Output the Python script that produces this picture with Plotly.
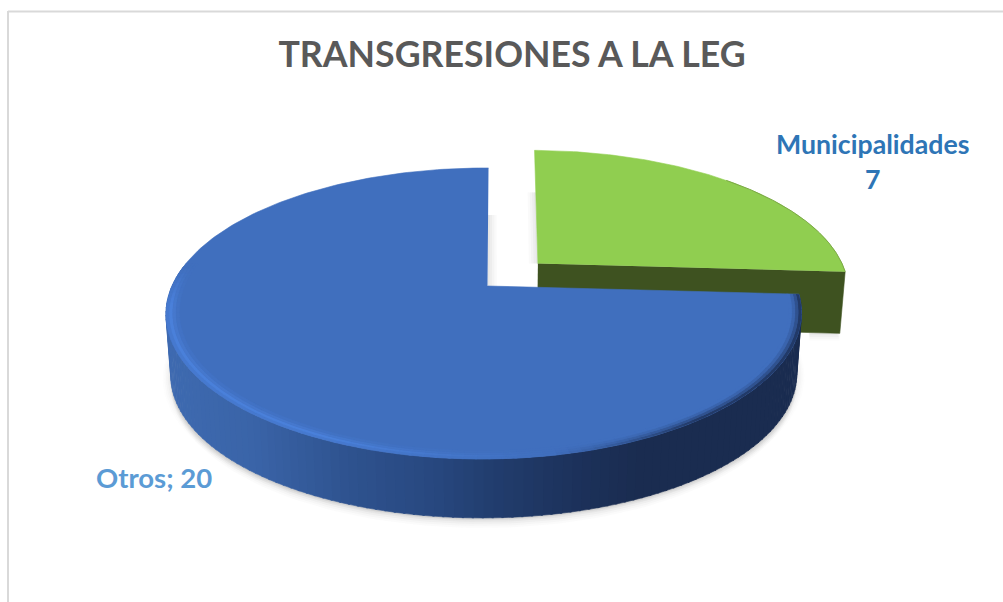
import numpy as np
import plotly.graph_objects as go

# Data
categories = ["Municipalidades", "Otros"]
values = [7, 20]
title_text = "TRANSGRESIONES A LA LEG"

# Styles
top_colors = ["#90CE50", "#406FBE"]
wall_green = "#3E5220"
wall_stops_x = [165, 250, 350, 430, 500, 580, 640, 810]
wall_stops_c = [(62, 106, 176), (58, 100, 168), (46, 82, 142), (40, 72, 128), (33, 60, 108),
                (28, 49, 90), (26, 44, 80), (26, 44, 80)]
explode_u, explode_v = 0.164, 0.165
green_radius = 1.02

# Projection of the tilted disc onto the page
CX, CY, RX, RY, K, M, SH, H = 487.5, 286, 312, 140.3, 0.189, 0.011, 1.2, 61.5


def project(u, v, z=0.0, sh=SH):
    u, v = np.asarray(u, float), np.asarray(v, float)
    w = 1 + K * v + M * u
    s = 1 - 0.015 * z
    return CX + s * (RX * u + sh * v) / w, CY + H * z - RY * s * v / w


def arc(t0, t1, r=1.0, du=0.0, dv=0.0, n=120):
    t = np.radians(np.linspace(t0, t1, n))
    return du + r * np.sin(t), dv + r * np.cos(t)


def hex2rgb(c):
    return tuple(int(c[i:i + 2], 16) for i in (1, 3, 5))


def mix(a, b, f):
    return tuple(a[i] + (b[i] - a[i]) * f for i in range(3))


def css(c):
    return "rgb(%d,%d,%d)" % tuple(round(x) for x in c)


fig = go.Figure()


def poly(x, y, color, opacity=1.0, lw=0.6):
    fig.add_trace(go.Scatter(
        x=list(x), y=list(y), mode="lines", fill="toself", fillcolor=color, opacity=opacity,
        line=dict(color=color, width=lw), hoverinfo="skip", showlegend=False))


# Angles from the values
total = sum(values)
green_end = 360 * values[0] / total
du, dv = explode_u, explode_v
blue_start, blue_end = green_end, 360.0
GSH = 5.5

# Soft shadow under the disc
for off, op in [(10, 0.035), (8, 0.045), (6, 0.06), (4, 0.07), (2, 0.08)]:
    u, v = arc(80, 290)
    x, y = project(u, v, 1)
    poly(x, y + off, "#808080", op, 0)
    x2, y2 = project(u * (1 + off / 400), v, 1)
    poly(x2, y2 + off * 0.3, "#808080", op * 0.6, 0)
ug, vg = arc(0, green_end, green_radius, du, dv)
for off, op in [(8, 0.03), (6, 0.04), (4, 0.05), (2, 0.06)]:
    xg, yg = project(ug, vg, 1, GSH)
    poly(np.r_[xg[-30:], xg[-1] - 30], np.r_[yg[-30:], yg[-1]] + off * 0.9, "#808080", op, 0)

# Soft shadows beside the cut faces, in the gap
for off, op in [(0.03, 0.04), (0.022, 0.05), (0.014, 0.06), (0.006, 0.07)]:
    x, y = project([0, off, off, 0], [0.0, 0.0, 0.56, 0.56])
    poly(x, y, "#808080", op, 0)
    x, y = project([du, du - off, du - off, du], [dv, dv, dv + 0.6, dv + 0.6], 0, GSH)
    poly(x, y, "#808080", op, 0)

# Green slice: wall first, then the top
ue = du + green_radius * np.sin(np.radians(green_end))
ve = dv + green_radius * np.cos(np.radians(green_end))
x0, y0 = project([du, ue], [dv, ve], 0, GSH)
x1, y1 = project([ue, du], [ve, dv], 1, GSH)
poly(np.r_[x0, x1], np.r_[y0, y1], wall_green)
x, y = project(np.r_[du, ug], np.r_[dv, vg], 0, GSH)
poly(x, y, top_colors[0])
xa, ya = project(*arc(45, green_end, green_radius, du, dv), 0, GSH)
fig.add_trace(go.Scatter(x=xa, y=ya, mode="lines", line=dict(color="#7BA845", width=1),
                         hoverinfo="skip", showlegend=False))

# Blue slice: graded outer wall
edges = np.arange(blue_start, 278, 1.5)
for a, b in zip(edges[:-1], edges[1:]):
    ua, va = arc(a, b + 0.3, n=3)
    xt, yt = project(ua, va, 0)
    xb, yb = project(ua, va, 1)
    xm = float(np.mean(xt))
    col = tuple(np.interp(xm, wall_stops_x, [s[i] for s in wall_stops_c]) for i in range(3))
    poly(np.r_[xt, xb[::-1]], np.r_[yt, yb[::-1]], css(col))

# Blue top
ub, vb = arc(blue_start, blue_end, n=240)
x, y = project(np.r_[0, ub], np.r_[0, vb])
poly(x, y, top_colors[1])

# Bevel on the rim of the blue top
top_rgb = hex2rgb(top_colors[1])
bright = (74, 128, 218)
dark = (34, 58, 104)
ring_r = [1.0, 0.990, 0.980, 0.970, 0.960]
bright_f = [0.6, 1.0, 0.55, 0.2]
dark_f = [1.0, 0.55, 0.2, 0.0]
edges = np.arange(blue_start, 280, 2.0)
for a, b in zip(edges[:-1], edges[1:]):
    c = (a + b) / 2
    if c >= 170:
        base = mix(top_rgb, bright, min(1, (c - 170) / 35) * min(1, (278 - c) / 15))
        fs = bright_f
    else:
        base = mix(top_rgb, dark, min(1, (170 - c) / 25))
        fs = dark_f
    for r1, r2, f in zip(ring_r[:-1], ring_r[1:], fs):
        col = mix(top_rgb, base, f)
        ua, va = arc(a, b + 0.3, r1, n=3)
        uc, vc = arc(a, b + 0.3, r2, n=3)
        xt, yt = project(ua, va)
        xi, yi = project(uc, vc)
        poly(np.r_[xt, xi[::-1]], np.r_[yt, yi[::-1]], css(col), lw=0.3)

# Labels
label_font = "Lato, 'Open Sans', sans-serif"
fig.add_annotation(x=872, y=161, xref="x", yref="y", showarrow=False, align="center",
                   text=f"{categories[0]}<br>{values[0]}",
                   font=dict(family=label_font, size=26.7, color="#2E75B6", weight="bold"))
fig.add_annotation(x=154, y=477, xref="x", yref="y", showarrow=False,
                   text=f"{categories[1]}; {values[1]}",
                   font=dict(family=label_font, size=27.5, color="#5B9BD5", weight="bold"))

# Frame around the chart area
fig.add_shape(type="line", x0=8, x1=1003, y0=11.5, y1=11.5, xref="x", yref="y",
              line=dict(color="#D9D9D9", width=2))
fig.add_shape(type="line", x0=8, x1=8, y0=11, y1=602, xref="x", yref="y",
              line=dict(color="#D9D9D9", width=2))

fig.update_layout(
    width=1003, height=602, margin=dict(l=0, r=0, t=0, b=0),
    paper_bgcolor="white", plot_bgcolor="white", showlegend=False,
    title=dict(text=f"<b>{title_text}</b>", x=512 / 1003, xanchor="center", y=1 - 55 / 602, yanchor="middle",
               font=dict(family=label_font, size=35.7, color="#595959")),
    xaxis=dict(range=[0, 1003], visible=False, fixedrange=True),
    yaxis=dict(range=[602, 0], visible=False, fixedrange=True),
)

fig.write_html("out.html", config=dict(displayModeBar=False),
               post_script="document.body.style.margin='0';document.documentElement.style.overflow='hidden';")
